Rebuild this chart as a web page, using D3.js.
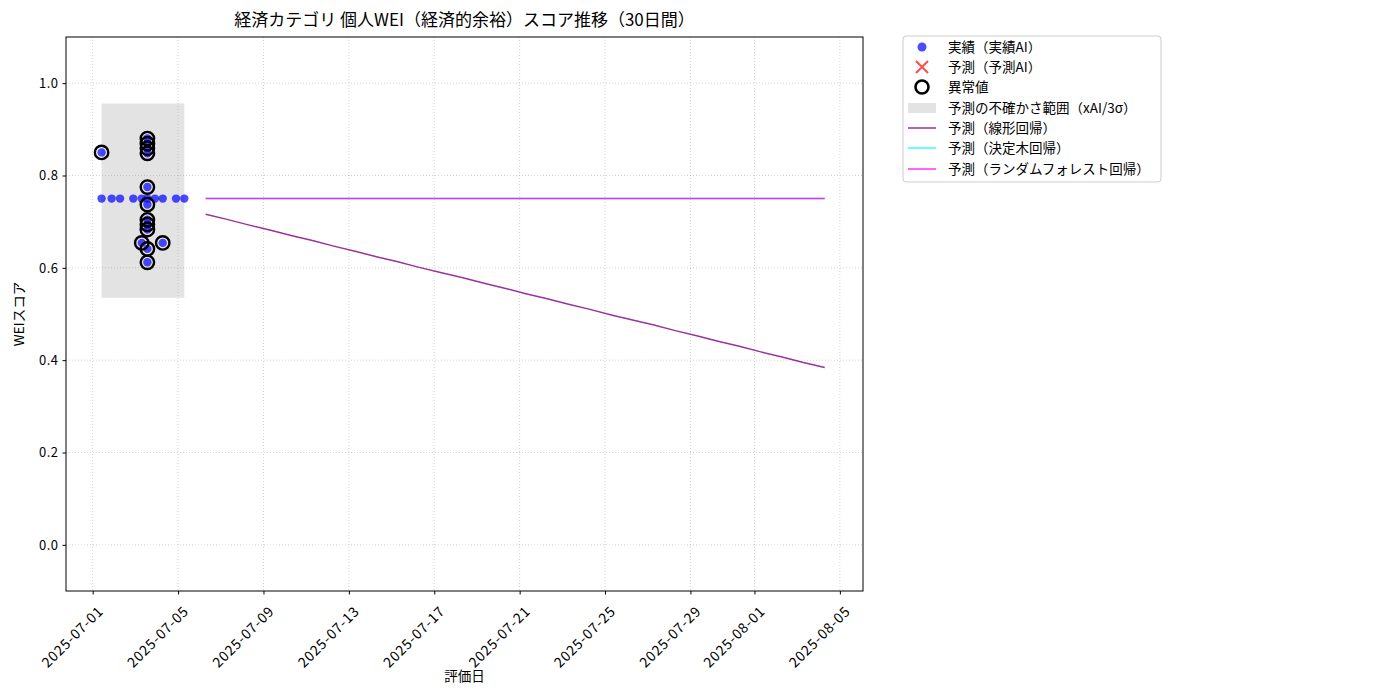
<!DOCTYPE html>
<html>
<head>
<meta charset="utf-8">
<script src="https://cdn.jsdelivr.net/npm/d3@7"></script>
<style>
  body { margin: 0; background: #fff; }
  text { font-family: "Noto Sans CJK JP", "DejaVu Sans", sans-serif; }
</style>
</head>
<body>
<script>
// actual scores (実績AI)
var actualDates = [
  "2025-07-01T10:00", "2025-07-01T10:00", "2025-07-01T21:20", "2025-07-02T06:45", "2025-07-02T21:40",
  "2025-07-03T07:10", "2025-07-03T07:10",
  "2025-07-03T13:30", "2025-07-03T13:30", "2025-07-03T13:30", "2025-07-03T13:30", "2025-07-03T13:30",
  "2025-07-03T13:30", "2025-07-03T13:30", "2025-07-03T13:30", "2025-07-03T13:30", "2025-07-03T13:30",
  "2025-07-03T13:30", "2025-07-03T13:30",
  "2025-07-03T22:00", "2025-07-04T06:45", "2025-07-04T06:45", "2025-07-04T21:40", "2025-07-05T07:00"
];
var actualScores = [
  0.75, 0.85, 0.75, 0.75, 0.75,
  0.75, 0.654,
  0.75, 0.880, 0.869, 0.859, 0.848, 0.775, 0.737, 0.704, 0.694, 0.683, 0.641, 0.612,
  0.75, 0.75, 0.654, 0.75, 0.75
];

// outliers (異常値)
var outlierDates = [
  "2025-07-01T10:00", "2025-07-03T07:10",
  "2025-07-03T13:30", "2025-07-03T13:30", "2025-07-03T13:30", "2025-07-03T13:30", "2025-07-03T13:30",
  "2025-07-03T13:30", "2025-07-03T13:30", "2025-07-03T13:30", "2025-07-03T13:30", "2025-07-03T13:30",
  "2025-07-03T13:30", "2025-07-04T06:45"
];
var outlierScores = [
  0.85, 0.654,
  0.880, 0.869, 0.859, 0.848, 0.775, 0.737, 0.704, 0.694, 0.683, 0.641, 0.612,
  0.654
];

// uncertainty band (xAI/3σ)
var bandDates = ["2025-07-01T10:00", "2025-07-05T07:00"];
var bandLower = [0.535, 0.535];
var bandUpper = [0.956, 0.956];

// forecasts
var forecastDates = [
  "2025-07-06T07:00", "2025-07-07T07:00", "2025-07-08T07:00", "2025-07-09T07:00", "2025-07-10T07:00",
  "2025-07-11T07:00", "2025-07-12T07:00", "2025-07-13T07:00", "2025-07-14T07:00", "2025-07-15T07:00",
  "2025-07-16T07:00", "2025-07-17T07:00", "2025-07-18T07:00", "2025-07-19T07:00", "2025-07-20T07:00",
  "2025-07-21T07:00", "2025-07-22T07:00", "2025-07-23T07:00", "2025-07-24T07:00", "2025-07-25T07:00",
  "2025-07-26T07:00", "2025-07-27T07:00", "2025-07-28T07:00", "2025-07-29T07:00", "2025-07-30T07:00",
  "2025-07-31T07:00", "2025-08-01T07:00", "2025-08-02T07:00", "2025-08-03T07:00", "2025-08-04T07:00"
];
var linearPred = [
  0.716, 0.705, 0.693, 0.682, 0.670, 0.659, 0.647, 0.636, 0.624, 0.613,
  0.601, 0.590, 0.579, 0.567, 0.556, 0.544, 0.533, 0.521, 0.510, 0.498,
  0.487, 0.476, 0.464, 0.453, 0.441, 0.430, 0.418, 0.407, 0.395, 0.384
];
var treePred = [
  0.75, 0.75, 0.75, 0.75, 0.75, 0.75, 0.75, 0.75, 0.75, 0.75,
  0.75, 0.75, 0.75, 0.75, 0.75, 0.75, 0.75, 0.75, 0.75, 0.75,
  0.75, 0.75, 0.75, 0.75, 0.75, 0.75, 0.75, 0.75, 0.75, 0.75
];
var forestPred = [
  0.75, 0.75, 0.75, 0.75, 0.75, 0.75, 0.75, 0.75, 0.75, 0.75,
  0.75, 0.75, 0.75, 0.75, 0.75, 0.75, 0.75, 0.75, 0.75, 0.75,
  0.75, 0.75, 0.75, 0.75, 0.75, 0.75, 0.75, 0.75, 0.75, 0.75
];

var xTicks = ["2025-07-01", "2025-07-05", "2025-07-09", "2025-07-13", "2025-07-17",
              "2025-07-21", "2025-07-25", "2025-07-29", "2025-08-01", "2025-08-05"];
var yTicks = [0.0, 0.2, 0.4, 0.6, 0.8, 1.0];

var legendLabels = ["実績（実績AI）", "予測（予測AI）", "異常値", "予測の不確かさ範囲（xAI/3σ）",
                    "予測（線形回帰）", "予測（決定木回帰）", "予測（ランダムフォレスト回帰）"];

var parse = d3.timeParse("%Y-%m-%dT%H:%M");
var parseDay = d3.timeParse("%Y-%m-%d");

var width = 1400, height = 700;
var plotL = 66, plotT = 37, plotR = 863, plotB = 591;

var svg = d3.select("body").append("svg")
  .attr("width", width)
  .attr("height", height);

var x = d3.scaleTime()
  .domain([parse("2025-06-29T18:00"), parse("2025-08-06T02:00")])
  .range([plotL, plotR]);
var y = d3.scaleLinear()
  .domain([-0.1, 1.1])
  .range([plotB, plotT]);

// grid
var grid = svg.append("g");
grid.selectAll("line.gx")
  .data(xTicks)
  .enter().append("line")
  .attr("x1", function(d) { return x(parseDay(d)); })
  .attr("x2", function(d) { return x(parseDay(d)); })
  .attr("y1", plotT).attr("y2", plotB)
  .attr("stroke", "#b0b0b0").attr("stroke-opacity", 0.7)
  .attr("stroke-width", 0.8).attr("stroke-dasharray", "1,2");
grid.selectAll("line.gy")
  .data(yTicks)
  .enter().append("line")
  .attr("x1", plotL).attr("x2", plotR)
  .attr("y1", function(d) { return y(d); })
  .attr("y2", function(d) { return y(d); })
  .attr("stroke", "#b0b0b0").attr("stroke-opacity", 0.7)
  .attr("stroke-width", 0.8).attr("stroke-dasharray", "1,2");

// uncertainty band
var band = bandDates.map(function(d, i) { return { t: parse(d), lo: bandLower[i], hi: bandUpper[i] }; });
svg.append("path")
  .datum(band)
  .attr("d", d3.area().x(function(d) { return x(d.t); })
    .y0(function(d) { return y(d.lo); })
    .y1(function(d) { return y(d.hi); }))
  .attr("fill", "#808080").attr("fill-opacity", 0.22);

// forecast lines
function drawLine(vals, color) {
  var pts = forecastDates.map(function(d, i) { return { t: parse(d), v: vals[i] }; });
  svg.append("path")
    .datum(pts)
    .attr("d", d3.line().x(function(d) { return x(d.t); }).y(function(d) { return y(d.v); }))
    .attr("fill", "none")
    .attr("stroke", color).attr("stroke-opacity", 0.8)
    .attr("stroke-width", 1.5);
}
drawLine(linearPred, "purple");
drawLine(treePred, "cyan");
drawLine(forestPred, "magenta");

// actual points
svg.append("g").selectAll("circle")
  .data(actualDates)
  .enter().append("circle")
  .attr("cx", function(d) { return x(parse(d)); })
  .attr("cy", function(d, i) { return y(actualScores[i]); })
  .attr("r", 4.2)
  .attr("fill", "blue").attr("fill-opacity", 0.7);

// outliers
svg.append("g").selectAll("circle")
  .data(outlierDates)
  .enter().append("circle")
  .attr("cx", function(d) { return x(parse(d)); })
  .attr("cy", function(d, i) { return y(outlierScores[i]); })
  .attr("r", 6.7)
  .attr("fill", "none")
  .attr("stroke", "black").attr("stroke-width", 2.4);

// axes
var xAxis = d3.axisBottom(x)
  .tickValues(xTicks.map(parseDay))
  .tickFormat(d3.timeFormat("%Y-%m-%d"))
  .tickSize(3.5).tickPadding(3);
var gx = svg.append("g")
  .attr("transform", "translate(0," + plotB + ")")
  .call(xAxis);
gx.select(".domain").remove();
gx.selectAll("text")
  .attr("font-size", 14).attr("fill", "#000")
  .attr("letter-spacing", "0.8px")
  .attr("text-anchor", "end")
  .attr("dy", "0.35em")
  .attr("transform", "translate(3,13) rotate(-45)");

var yAxis = d3.axisLeft(y)
  .tickValues(yTicks)
  .tickFormat(d3.format(".1f"))
  .tickSize(3.5).tickPadding(4);
var gy = svg.append("g")
  .attr("transform", "translate(" + plotL + ",0)")
  .call(yAxis);
gy.select(".domain").remove();
gy.selectAll("text").attr("font-size", 13).attr("letter-spacing", "0.5px").attr("fill", "#000");

svg.append("rect")
  .attr("x", plotL).attr("y", plotT)
  .attr("width", plotR - plotL).attr("height", plotB - plotT)
  .attr("fill", "none").attr("stroke", "#000").attr("stroke-width", 1);

// labels
svg.append("text")
  .attr("x", (plotL + plotR) / 2).attr("y", 26)
  .attr("text-anchor", "middle")
  .attr("font-size", 17)
  .text("経済カテゴリ 個人WEI（経済的余裕）スコア推移（30日間）");
svg.append("text")
  .attr("x", (plotL + plotR) / 2).attr("y", 681)
  .attr("text-anchor", "middle")
  .attr("font-size", 13.5)
  .text("評価日");
svg.append("text")
  .attr("transform", "translate(24," + ((plotT + plotB) / 2) + ") rotate(-90)")
  .attr("text-anchor", "middle")
  .attr("font-size", 13.5)
  .text("WEIスコア");

// legend
var lg = svg.append("g").attr("transform", "translate(903,36)");
lg.append("rect")
  .attr("x", 0).attr("y", 0).attr("width", 258).attr("height", 146)
  .attr("rx", 3)
  .attr("fill", "#fff").attr("stroke", "#cccccc");
var rowY = [11, 31, 51, 72, 92, 112, 133];
lg.selectAll("text")
  .data(legendLabels)
  .enter().append("text")
  .attr("x", 45)
  .attr("y", function(d, i) { return rowY[i]; })
  .attr("dy", "0.35em")
  .attr("font-size", 13.5)
  .text(function(d) { return d; });

lg.append("circle").attr("cx", 19).attr("cy", rowY[0]).attr("r", 4.5)
  .attr("fill", "blue").attr("fill-opacity", 0.7);
lg.append("path")
  .attr("d", "M13," + (rowY[1] - 6) + "L25," + (rowY[1] + 6) + "M13," + (rowY[1] + 6) + "L25," + (rowY[1] - 6))
  .attr("stroke", "red").attr("stroke-opacity", 0.7).attr("stroke-width", 2);
lg.append("circle").attr("cx", 19).attr("cy", rowY[2]).attr("r", 6.5)
  .attr("fill", "none").attr("stroke", "black").attr("stroke-width", 2.6);
lg.append("rect").attr("x", 5).attr("y", rowY[3] - 5).attr("width", 28).attr("height", 10)
  .attr("fill", "#808080").attr("fill-opacity", 0.22);
var lineColors = ["purple", "cyan", "magenta"];
lineColors.forEach(function(c, i) {
  lg.append("line")
    .attr("x1", 5).attr("x2", 33)
    .attr("y1", rowY[4 + i]).attr("y2", rowY[4 + i])
    .attr("stroke", c).attr("stroke-opacity", 0.8).attr("stroke-width", 1.5);
});
</script>
</body>
</html>
